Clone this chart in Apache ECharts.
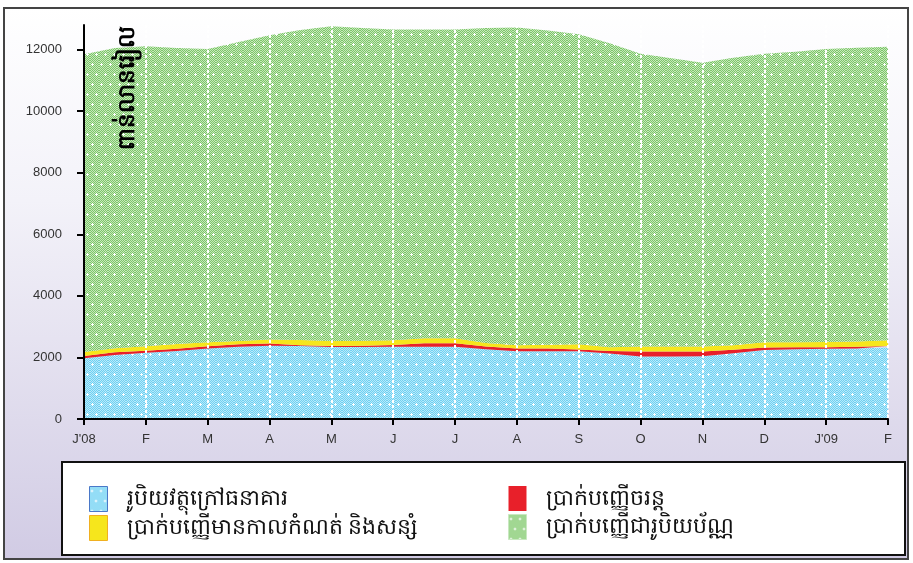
<!DOCTYPE html>
<html>
<head>
<meta charset="utf-8">
<script src="https://cdn.jsdelivr.net/npm/echarts@6/dist/echarts.min.js"></script>
<style>
html,body{margin:0;padding:0;background:#fff;}
#c{width:913px;height:563px;}
</style>
</head>
<body>
<div id="c"></div>
<script>
// ---- data (half-month samples from Jan 2008 to Feb 2009) ----
var monthLabels = ["J'08","F","M","A","M","J","J","A","S","O","N","D","J'09","F"];
var seriesNames = ["រូបិយវត្ថុក្រៅធនាគារ","ប្រាក់បញ្ញើចរន្ត","ប្រាក់បញ្ញើមានកាលកំណត់ និងសន្សំ","ប្រាក់បញ្ញើជារូបិយប័ណ្ណ"];
var currency = [1975,2080,2150,2210,2290,2350,2380,2370,2340,2340,2350,2350,2350,2270,2200,2200,2200,2130,2030,2030,2040,2140,2240,2270,2280,2290,2320];
var demandDep = [75,85,65,70,75,75,75,30,30,40,55,110,110,85,90,90,55,80,160,160,150,110,85,60,55,55,55];
var timeSavDep = [130,130,150,155,130,110,130,165,160,160,150,160,160,110,110,120,170,120,165,165,165,150,165,165,165,175,185];
var fxDep = [9670,9755,9745,9615,9525,9715,9885,10075,10230,10160,10095,10030,10030,10235,10320,10210,10075,9880,9515,9365,9215,9340,9380,9435,9520,9540,9530];
var yTitle = "ពាន់លានរៀល";

// category per half month; month label on every second category
var cats = [];
for (var i = 0; i < currency.length; i++) cats.push(i % 2 === 0 ? monthLabels[i / 2] : '');

function makePattern(c1, c2, plus) {
  var cv = document.createElement('canvas');
  cv.width = 9; cv.height = 20;
  var ctx = cv.getContext('2d');
  for (var y = 0; y < 20; y++) for (var x = 0; x < 9; x++) {
    ctx.fillStyle = ((x + y) % 2 === 0) ? c1 : c2;
    ctx.fillRect(x, y, 1, 1);
  }
  ctx.fillStyle = plus;
  [[2,4],[6,14]].forEach(function(p){
    ctx.fillRect(p[0]-1, p[1], 3, 1);
    ctx.fillRect(p[0], p[1]-1, 1, 3);
  });
  return {image: cv, repeat: 'repeat'};
}
var bluePat = makePattern('#6fd0f2', '#b8eafa', '#ffffff');
var greenPat = makePattern('#7cc66a', '#c6e8ba', '#ffffff');
var yellow = '#f6e61c';
var red = '#e8202a';

var fills = [bluePat, red, yellow, greenPat];
var datas = [currency, demandDep, timeSavDep, fxDep];
var series = datas.map(function(d, i){
  return {
    name: seriesNames[i], type: 'line', stack: 'total', symbol: 'none',
    lineStyle: {width: 0}, itemStyle: {color: i===0?'#8edaf5':(i===3?'#a2d890':fills[i])},
    areaStyle: {color: fills[i], opacity: 1},
    data: d, z: 2
  };
});

var chart = echarts.init(document.getElementById('c'), null, {renderer: 'canvas'});
chart.setOption({
  animation: false,
  graphic: [
    {type: 'rect', z: -10, shape: {x: 4, y: 8, width: 904, height: 551},
     style: {fill: {type: 'linear', x: 0, y: 0, x2: 0, y2: 1, colorStops: [
       {offset: 0, color: '#ffffff'}, {offset: 0.35, color: '#f3f2f9'}, {offset: 1, color: '#d1cbe4'}]},
       stroke: '#444', lineWidth: 2}},
    {type: 'rect', z: -5, shape: {x: 62, y: 462, width: 843, height: 93},
     style: {fill: '#ffffff', stroke: '#111', lineWidth: 2}},
    {type: 'text', z: 10, x: 127, y: 88, rotation: Math.PI/2,
     style: {text: yTitle, fill: '#000', font: 'bold 23px "Noto Sans", sans-serif', align: 'center', verticalAlign: 'middle'}}
  ],
  grid: {left: 84, right: 25, top: 25, bottom: 144, containLabel: false},
  xAxis: {
    type: 'category', data: cats, boundaryGap: false, z: 10,
    axisLine: {show: true, onZero: false, lineStyle: {color: '#000', width: 2}},
    axisTick: {show: true, interval: 1, length: 6, lineStyle: {color: '#000', width: 2}},
    axisLabel: {interval: 1, margin: 14, color: '#333', fontSize: 13, fontFamily: 'Liberation Sans, Arial, sans-serif'},
    splitLine: {show: true, interval: 1, lineStyle: {color: '#ffffff', type: [3, 2], width: 2}}
  },
  yAxis: {
    type: 'value', min: 0, max: 12800, interval: 2000, z: 10,
    axisLine: {show: true, lineStyle: {color: '#000', width: 2}},
    axisTick: {show: true, length: 7, lineStyle: {color: '#000', width: 2}},
    axisLabel: {margin: 22, color: '#333', fontSize: 13, fontFamily: 'Liberation Sans, Arial, sans-serif', showMaxLabel: false,
      formatter: function(v){ return v % 2000 === 0 ? String(v) : ''; }},
    splitLine: {show: false}
  },
  legend: [
    {orient: 'vertical', left: 84, top: 481, itemWidth: 18, itemHeight: 25, itemGap: 3,
     textStyle: {fontSize: 22, color: '#111', fontFamily: '"Noto Sans", sans-serif', padding: [0,0,0,14]},
     data: [
       {name: seriesNames[0], icon: 'rect', itemStyle: {color: bluePat, borderColor: '#4a78c8', borderWidth: 1}},
       {name: seriesNames[2], icon: 'rect', itemStyle: {color: yellow, borderColor: '#f0b020', borderWidth: 1}}
     ]},
    {orient: 'vertical', left: 503, top: 481, itemWidth: 18, itemHeight: 25, itemGap: 3,
     textStyle: {fontSize: 22, color: '#111', fontFamily: '"Noto Sans", sans-serif', padding: [0,0,0,14]},
     data: [
       {name: seriesNames[1], icon: 'rect', itemStyle: {color: red}},
       {name: seriesNames[3], icon: 'rect', itemStyle: {color: greenPat, borderColor: '#c8e8c0', borderWidth: 1}}
     ]}
  ],
  series: series
});
</script>
</body>
</html>
